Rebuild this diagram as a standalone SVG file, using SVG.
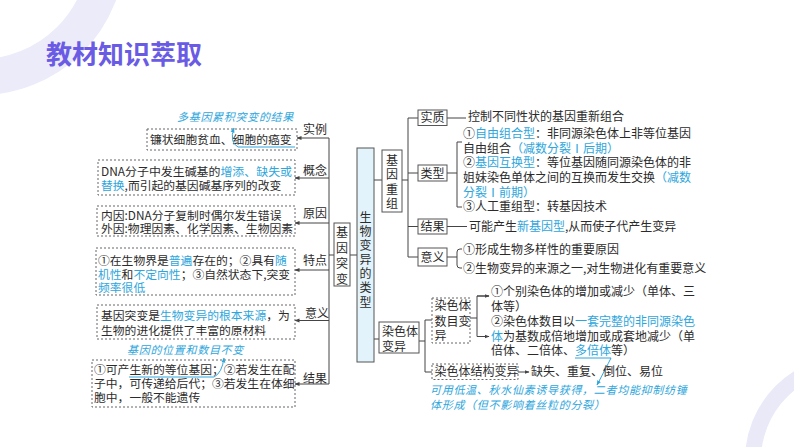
<svg xmlns="http://www.w3.org/2000/svg" width="794" height="447" viewBox="0 0 794 447">
<defs>
<style>
.t{font-family:"Noto Sans CJK SC","Noto Sans",sans-serif;font-size:12px;fill:#2b2b2b}
.s{font-size:11.8px}
.h{fill:#2ea6dc}
.an{font-family:"Noto Sans CJK SC","Noto Sans",sans-serif;font-size:11px;fill:#2ea6dc;font-style:italic;letter-spacing:0.7px}
.box{fill:#fff;stroke:#555;stroke-width:1}
.db{fill:#fff;stroke:#666;stroke-width:1;stroke-dasharray:2 2}
.ln{fill:none;stroke:#444;stroke-width:1}
.tl{fill:none;stroke:#2ea6dc;stroke-width:1}
.ttl{font-family:"Noto Sans CJK SC","Noto Sans",sans-serif;font-size:26px;font-weight:700;fill:#6a5be4}
</style>
<marker id="ah" viewBox="0 0 10 10" refX="9" refY="5" markerWidth="5" markerHeight="5" orient="auto"><path d="M0,1 L10,5 L0,9 z" fill="#444"/></marker>
<marker id="th" viewBox="0 0 10 10" refX="9" refY="5" markerWidth="5" markerHeight="5" orient="auto"><path d="M0,1 L10,5 L0,9 z" fill="#2ea6dc"/></marker>
</defs>
<rect width="794" height="447" fill="#fff"/>
<g id="bg">
<circle cx="-20" cy="-50" r="127" fill="none" stroke="#ebebf9" stroke-width="36"/>
<circle cx="850" cy="460" r="97" fill="none" stroke="#e9e9f8" stroke-width="16"/>
</g>
<g id="title"><text class="ttl" x="46" y="64">教材知识萃取</text></g>

<g id="connectors">
<line class="ln" x1="329" y1="138" x2="329" y2="384"/>
<line class="ln" x1="329" y1="138" x2="297" y2="138" marker-end="url(#ah)"/>
<line class="ln" x1="329" y1="178" x2="295" y2="178" marker-end="url(#ah)"/>
<line class="ln" x1="329" y1="223" x2="295" y2="223" marker-end="url(#ah)"/>
<line class="ln" x1="329" y1="270" x2="295" y2="270" marker-end="url(#ah)"/>
<line class="ln" x1="329" y1="320.5" x2="295" y2="320.5" marker-end="url(#ah)"/>
<line class="ln" x1="329" y1="384" x2="295" y2="384" marker-end="url(#ah)"/>
<line class="ln" x1="329" y1="255" x2="334" y2="255"/>
<line class="ln" x1="350" y1="255" x2="357" y2="255"/>
<line class="ln" x1="374" y1="180" x2="382" y2="180"/>
<line class="ln" x1="374" y1="339" x2="379" y2="339"/>
<line class="ln" x1="402" y1="180" x2="408" y2="180"/>
<line class="ln" x1="408" y1="118" x2="408" y2="257"/>
<line class="ln" x1="408" y1="118" x2="418" y2="118"/>
<line class="ln" x1="408" y1="173" x2="418" y2="173"/>
<line class="ln" x1="408" y1="226.5" x2="418" y2="226.5"/>
<line class="ln" x1="408" y1="257" x2="418" y2="257"/>
<line class="ln" x1="447" y1="118" x2="466" y2="118"/>
<line class="ln" x1="447" y1="173" x2="457" y2="173"/>
<path class="ln" d="M462,142 H457 V207 H462"/>
<line class="ln" x1="447" y1="226.5" x2="467" y2="226.5"/>
<line class="ln" x1="447" y1="257" x2="457" y2="257"/>
<path class="ln" d="M462,249 H460 Q457,249 457,252 V265 Q457,268 460,268 H462"/>
<line class="ln" x1="419" y1="341" x2="425" y2="341"/>
<path class="ln" d="M432,320 H425 V372 H432"/>
<line class="ln" x1="470" y1="318" x2="477" y2="318"/>
<path class="ln" d="M489,296 H477 V336.5 H489"/>
<line class="ln" x1="477" y1="296" x2="489" y2="296" marker-end="url(#ah)"/>
<line class="ln" x1="477" y1="336.5" x2="489" y2="336.5" marker-end="url(#ah)"/>
<line class="ln" x1="518" y1="372" x2="529" y2="372" marker-end="url(#ah)"/>
</g>

<g id="n-shili">
<text class="t" x="303" y="134">实例</text>
<rect class="db" x="147" y="129" width="150" height="21"/>
<text class="t s" x="150" y="144">镰状细胞贫血、细胞的癌变</text>
<text class="an" x="177" y="121">多基因累积突变的结果</text>
<path class="tl" d="M295,147 H238 Q229,142 234,128" marker-end="url(#th)"/>
</g>
<g id="n-gainian">
<text class="t" x="303" y="175">概念</text>
<rect class="db" x="98" y="160" width="197" height="35"/>
<text class="t s" x="101" y="175.5" textLength="191" lengthAdjust="spacingAndGlyphs">DNA分子中发生碱基的<tspan class="h">增添、缺失或</tspan></text>
<text class="t s" x="101" y="189.5"><tspan class="h">替换</tspan>,而引起的基因碱基序列的改变</text>
</g>
<g id="n-yuanyin">
<text class="t" x="303" y="218">原因</text>
<rect class="db" x="97" y="206" width="198" height="30"/>
<text class="t s" x="101" y="219.5">内因:DNA分子复制时偶尔发生错误</text>
<text class="t s" x="101" y="232.8">外因:物理因素、化学因素、生物因素</text>
</g>
<g id="n-tedian">
<text class="t" x="303" y="264.5">特点</text>
<rect class="db" x="96" y="248" width="199" height="47"/>
<text class="t s" x="98" y="264.5">①在生物界是<tspan class="h">普遍</tspan>存在的；②具有<tspan class="h">随</tspan></text>
<text class="t s" x="98" y="278.5"><tspan class="h">机性</tspan>和<tspan class="h">不定向性</tspan>；③自然状态下,突变</text>
<text class="t s" x="98" y="292"><tspan class="h">频率很低</tspan></text>
</g>
<g id="n-yiyi1">
<text class="t" x="305" y="318">意义</text>
<rect class="db" x="97" y="305" width="198" height="34"/>
<text class="t s" x="101" y="319.5">基因突变是<tspan class="h">生物变异的根本来源</tspan>，为</text>
<text class="t s" x="101" y="334.5">生物的进化提供了丰富的原材料</text>
</g>
<g id="n-jieguo1">
<text class="t" x="303" y="383">结果</text>
<text class="an" x="127" y="353.5">基因的位置和数目不变</text>
<rect class="db" x="92" y="360" width="203" height="47"/>
<text class="t s" x="94" y="374.3">①可产生新的等位基因；②若发生在配</text>
<text class="t s" x="94" y="388.3">子中，可传递给后代；③若发生在体细</text>
<text class="t s" x="94" y="402.3">胞中，一般不能遗传</text>
<path class="tl" d="M129,377 H214 Q222,373 224,358" marker-end="url(#th)"/>
</g>

<g id="n-jiyintubian">
<rect class="box" x="334" y="223" width="16" height="63"/>
<text class="t" font-size="13" text-anchor="middle"><tspan x="342" y="237">基</tspan><tspan x="342" y="252.5">因</tspan><tspan x="342" y="268">突</tspan><tspan x="342" y="283.5">变</tspan></text>
</g>
<g id="n-root">
<rect x="357" y="148" width="17" height="214" fill="#e3f3fb" stroke="#555" stroke-width="1"/>
<text class="t" font-size="13" text-anchor="middle"><tspan x="365.5" y="221.5">生</tspan><tspan x="365.5" y="235.7">物</tspan><tspan x="365.5" y="249.8">变</tspan><tspan x="365.5" y="264">异</tspan><tspan x="365.5" y="278.2">的</tspan><tspan x="365.5" y="292.4">类</tspan><tspan x="365.5" y="306.5">型</tspan></text>
</g>
<g id="n-jiyinchongzu">
<rect class="box" x="382" y="150" width="20" height="62"/>
<text class="t" font-size="12.5" text-anchor="middle"><tspan x="392" y="164.5">基</tspan><tspan x="392" y="179">因</tspan><tspan x="392" y="193.5">重</tspan><tspan x="392" y="208">组</tspan></text>
</g>
<g id="n-shizhi">
<rect class="box" x="418" y="110" width="29" height="15.5"/>
<text class="t" x="432.5" y="122.2" text-anchor="middle">实质</text>
<text class="t" x="468" y="121.3">控制不同性状的基因重新组合</text>
</g>
<g id="n-leixing">
<rect class="box" x="418" y="165" width="29" height="16"/>
<text class="t" x="432.5" y="177.5" text-anchor="middle">类型</text>
<text class="t" x="463" y="137.5">①<tspan class="h">自由组合型</tspan>：非同源染色体上非等位基因</text>
<text class="t" x="463" y="152.5">自由组合<tspan class="h">（减数分裂Ⅰ后期）</tspan></text>
<text class="t" x="463" y="167.3">②<tspan class="h">基因互换型</tspan>：等位基因随同源染色体的非</text>
<text class="t" x="463" y="182.2">姐妹染色单体之间的互换而发生交换<tspan class="h">（减数</tspan></text>
<text class="t" x="463" y="196.8"><tspan class="h">分裂Ⅰ前期）</tspan></text>
<text class="t" x="463" y="211.3">③人工重组型：转基因技术</text>
</g>
<g id="n-jieguo2">
<rect class="box" x="418" y="219" width="29" height="15"/>
<text class="t" x="432.5" y="231" text-anchor="middle">结果</text>
<text class="t" x="469" y="231">可能产生<tspan class="h">新基因型</tspan>,从而使子代产生变异</text>
</g>
<g id="n-yiyi2">
<rect class="box" x="418" y="248" width="29" height="18"/>
<text class="t" x="432.5" y="261.5" text-anchor="middle">意义</text>
<text class="t" x="463" y="253.7">①形成生物多样性的重要原因</text>
<text class="t" x="463" y="272.7">②生物变异的来源之一,对生物进化有重要意义</text>
</g>
<g id="n-ranseti">
<rect class="box" x="379" y="322" width="40" height="31"/>
<text class="t" x="382" y="336">染色体</text>
<text class="t" x="382" y="351">变异</text>
</g>
<g id="n-shumu">
<rect class="db" x="432" y="298" width="38" height="45"/>
<text class="t" font-size="11.7" x="434.5" y="309.5">染色体</text>
<text class="t" font-size="11.7" x="434.5" y="326">数目变</text>
<text class="t" font-size="11.7" x="434.5" y="339.5">异</text>
<text class="t" x="491" y="296.3">①个别染色体的增加或减少（单体、三</text>
<text class="t" x="491" y="311">体等）</text>
<text class="t" x="491" y="325.8">②染色体数目以<tspan class="h">一套完整的非同源染色</tspan></text>
<text class="t" x="491" y="340.5"><tspan class="h">体</tspan>为基数成倍地增加或成套地减少（单</text>
<text class="t" x="491" y="355.3">倍体、二倍体、<tspan class="h">多倍体</tspan>等）</text>
<path class="tl" d="M575,358 H611 Q606,368 597,385" marker-end="url(#th)"/>
</g>
<g id="n-jiegou">
<rect class="db" x="432" y="364" width="86" height="15.5"/>
<text class="t" font-size="11.5" x="434.5" y="376">染色体结构变异</text>
<text class="t" x="531" y="376.3">缺失、重复、倒位、易位</text>
<text class="an" x="430" y="394">可用低温、秋水仙素诱导获得，二者均能抑制纺锤</text>
<text class="an" x="430" y="409.3">体形成（但不影响着丝粒的分裂）</text>
</g>
</svg>
